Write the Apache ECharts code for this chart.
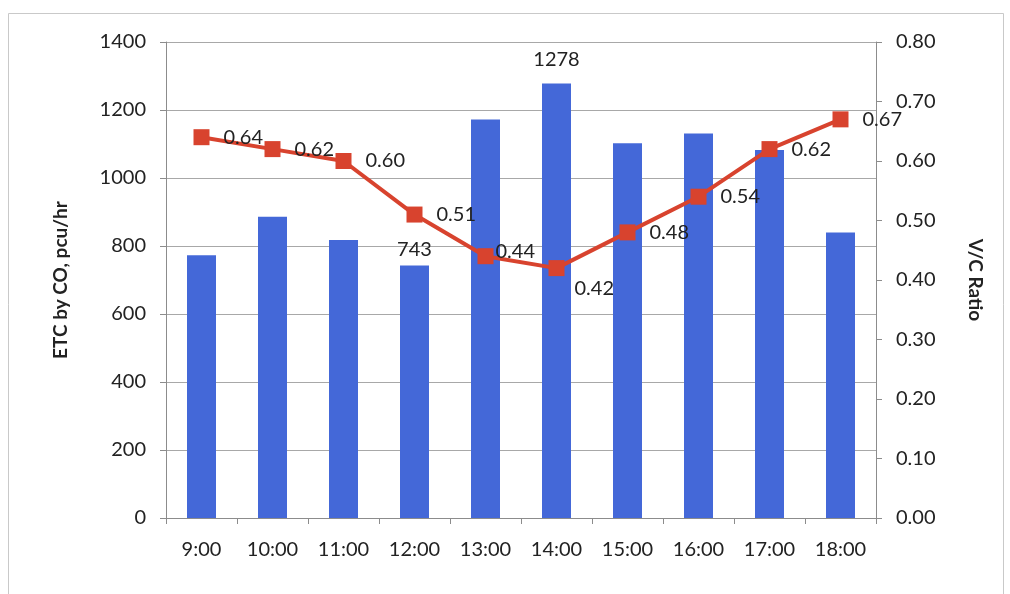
<!DOCTYPE html>
<html>
<head>
<meta charset="utf-8">
<script src="https://cdn.jsdelivr.net/npm/echarts@6/dist/echarts.min.js"></script>
<style>
html,body{margin:0;padding:0;background:#fff;}
#chart{width:1010px;height:594px;}
</style>
</head>
<body>
<div id="chart"></div>
<script>
var categories = ['9:00','10:00','11:00','12:00','13:00','14:00','15:00','16:00','17:00','18:00'];
var etcValues = [773, 886, 818, 743, 1172, 1278, 1102, 1131, 1082, 840];
var vcValues = [0.64, 0.62, 0.60, 0.51, 0.44, 0.42, 0.48, 0.54, 0.62, 0.67];
var labelledBars = ['12:00', '14:00'];
var leftTicks = {min: 0, max: 1400, interval: 200};
var rightTicks = {min: 0, max: 0.8, interval: 0.1};

var FONT = 'Lato';
var TXT = '#222';

var barData = etcValues.map(function (v, i) {
  var show = labelledBars.indexOf(categories[i]) >= 0;
  return {
    value: v,
    label: {show: show, distance: categories[i] === '14:00' ? 14 : 6}
  };
});

var lineData = vcValues.map(function (v, i) {
  var item = {value: v};
  if (categories[i] === '14:00') {
    item.label = {position: 'right', offset: [-4, 20]};
  } else if (categories[i] === '13:00') {
    item.label = {distance: 2, offset: [0, -5]};
  }
  return item;
});

var chart = echarts.init(document.getElementById('chart'));
chart.setOption({
  backgroundColor: '#fff',
  animation: false,
  textStyle: {fontFamily: FONT},
  graphic: [{
    type: 'rect', shape: {x: 8.5, y: 13.5, width: 995, height: 600},
    style: {fill: 'none', stroke: '#c9c9c9', lineWidth: 1}, z: -10
  }],
  grid: {left: 166, right: 134, top: 42, bottom: 76},
  xAxis: {
    type: 'category',
    data: categories,
    boundaryGap: true,
    axisLine: {lineStyle: {color: '#8c8c8c', width: 1}},
    axisTick: {show: true, length: 6, interval: 0, lineStyle: {color: '#8c8c8c'}},
    axisLabel: {color: TXT, fontSize: 20, fontFamily: FONT, margin: 22, interval: 0}
  },
  yAxis: [{
    type: 'value',
    min: leftTicks.min, max: leftTicks.max, interval: leftTicks.interval,
    name: 'ETC by CO, pcu/hr',
    nameLocation: 'middle',
    nameGap: 96,
    nameRotate: 90,
    nameTextStyle: {color: TXT, fontSize: 19, fontWeight: 'bold', fontFamily: FONT},
    axisLine: {show: true, lineStyle: {color: '#8c8c8c'}},
    axisTick: {show: true, length: 6, lineStyle: {color: '#8c8c8c'}},
    axisLabel: {color: TXT, fontSize: 20, fontFamily: FONT, margin: 20,
      formatter: function (v) { return String(v); }},
    splitLine: {show: true, lineStyle: {color: '#a8a8a8', width: 1}}
  }, {
    type: 'value',
    position: 'right',
    min: rightTicks.min, max: rightTicks.max, interval: rightTicks.interval,
    name: 'V/C Ratio',
    nameLocation: 'middle',
    nameGap: 90,
    nameRotate: -90,
    nameTextStyle: {color: TXT, fontSize: 19, fontWeight: 'bold', fontFamily: FONT},
    axisLine: {show: true, lineStyle: {color: '#8c8c8c'}},
    axisTick: {show: true, length: 6, lineStyle: {color: '#8c8c8c'}},
    axisLabel: {color: TXT, fontSize: 20, fontFamily: FONT, margin: 20,
      formatter: function (v) { return v.toFixed(2); }},
    splitLine: {show: false}
  }],
  series: [{
    type: 'bar',
    data: barData,
    barWidth: 29,
    itemStyle: {color: '#4468d8'},
    label: {show: false, position: 'top', color: TXT, fontSize: 20, fontFamily: FONT}
  }, {
    type: 'line',
    yAxisIndex: 1,
    data: lineData,
    symbol: 'rect',
    symbolSize: 16,
    lineStyle: {color: '#d8432e', width: 4},
    itemStyle: {color: '#d8432e'},
    label: {show: true, position: 'right', distance: 14, color: TXT, fontSize: 20, fontFamily: FONT,
      formatter: function (p) { return p.value.toFixed(2); }},
    z: 5
  }]
});
</script>
</body>
</html>
